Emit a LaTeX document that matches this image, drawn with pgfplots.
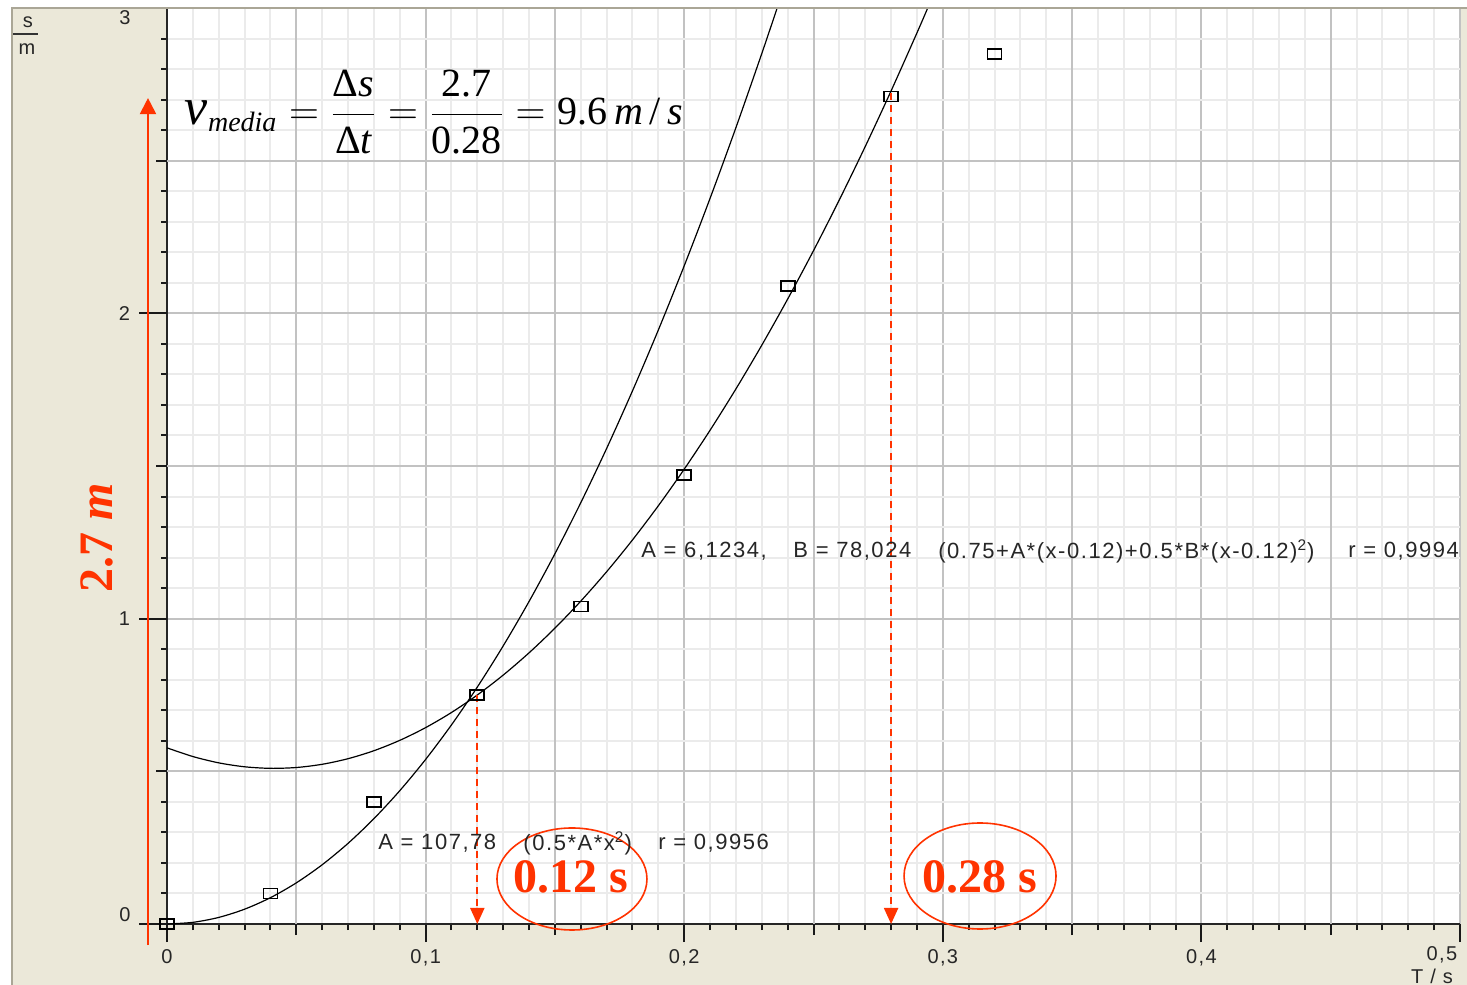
\documentclass[border=0pt]{standalone}
\usepackage{fontspec}
\usepackage{amsmath}
\usepackage{pgfplots}
\pgfplotsset{compat=1.18}
\usetikzlibrary{arrows.meta}
\setmainfont{Liberation Sans}
\newfontfamily\serif{Liberation Serif}
\newfontfamily\gui[LetterSpace=7]{Liberation Sans}
\definecolor{beige}{RGB}{235,232,217}
\definecolor{myred}{RGB}{255,51,0}
\definecolor{bord}{RGB}{170,166,150}
\newcommand{\ti}[1]{\text{\serif\itshape #1}}
\newcommand{\tr}[1]{\text{\serif #1}}

\pgfplotstableread{
x y
0 0
0.04 0.10
0.08 0.40
0.12 0.75
0.16 1.04
0.20 1.47
0.24 2.09
0.28 2.71
0.32 2.85
}\measured

\begin{document}
\begin{tikzpicture}
\fill[white] (0,0) rectangle (733.5pt,492.5pt);
\fill[beige] (6pt,0) rectangle (733.5pt,488.5pt);
\begin{axis}[
  at={(83.5pt,30.5pt)}, anchor=south west,
  scale only axis, width=646.5pt, height=458pt,
  xmin=0, xmax=0.5, ymin=0, ymax=3,
  clip=false,
  axis background/.style={fill=white},
  axis x line*=bottom, axis y line*=left,
  x axis line style={-, line width=1.4pt, black!85},
  y axis line style={-, line width=1.2pt, black!85},
  tick align=outside,
  xtick={0,0.1,0.2,0.3,0.4,0.5},
  xticklabels={0,{0,1},{0,2},{0,3},{0,4},{}},
  ytick={0,1,2,3},
  yticklabels={{},1,2,{}},
  minor x tick num=9,
  minor y tick num=9,
  extra x ticks={0.05,0.15,0.25,0.35,0.45},
  extra x tick labels={},
  extra y ticks={0.5,1.5,2.5},
  extra y tick labels={},
  extra tick style={grid=major, major tick length=5.5pt},
  major tick length=9pt,
  minor tick length=3pt,
  tick style={black!90, line width=1pt},
  grid=both,
  minor grid style={color=black!8, line width=1pt},
  major grid style={color=black!24, line width=1pt},
  ticklabel style={font=\gui\fontsize{10}{11}\selectfont, text=black!85},
  yticklabel style={xshift=-6pt},
]
% fitted curve 0.5*A*x^2, A=107.78
\addplot[black, line width=0.6pt, smooth] coordinates {
(0,0) (0.01,0.005389) (0.02,0.021556) (0.03,0.048501) (0.04,0.086224)
(0.05,0.134725) (0.06,0.194004) (0.07,0.264061) (0.08,0.344896) (0.09,0.436509)
(0.10,0.5389) (0.11,0.652069) (0.12,0.776016) (0.13,0.910741) (0.14,1.056244)
(0.15,1.212525) (0.16,1.379584) (0.17,1.557421) (0.18,1.746036) (0.19,1.945429)
(0.20,2.1556) (0.21,2.376549) (0.22,2.608276) (0.23,2.850781) (0.235943,3.0)
};
% fitted curve 0.75+A(x-0.12)+0.5B(x-0.12)^2
\addplot[black, line width=0.6pt, smooth] coordinates {
(0,0.576965) (0.01,0.548471) (0.02,0.52778) (0.03,0.514891) (0.04,0.509805)
(0.05,0.512521) (0.06,0.523039) (0.07,0.54136) (0.08,0.567483) (0.09,0.601409)
(0.10,0.643137) (0.11,0.692667) (0.12,0.75) (0.13,0.815135) (0.14,0.888073)
(0.15,0.968813) (0.16,1.057355) (0.17,1.1537) (0.18,1.257847) (0.19,1.369797)
(0.20,1.489549) (0.21,1.617103) (0.22,1.75246) (0.23,1.895619) (0.24,2.046581)
(0.25,2.205345) (0.26,2.371911) (0.27,2.54628) (0.28,2.728451) (0.29,2.918425)
(0.29417,3.0)
};
\addplot[only marks, mark=square, mark size=2.5pt,
  mark options={xscale=1.4, black, line width=0.9pt, fill=none}] table[x=x,y=y] {\measured};

% long major y ticks
\draw[black!90, line width=1pt] (axis cs:0,0) -- ++(-14pt,0);
\draw[black!90, line width=1pt] (axis cs:0,1) -- ++(-14pt,0);
\draw[black!90, line width=1pt] (axis cs:0,2) -- ++(-14pt,0);
\draw[black!90, line width=1pt] (axis cs:0,3) -- ++(-14pt,0);

% annotations
\draw[myred, line width=1pt, dash pattern=on 3.5pt off 2.5pt, -{Triangle[width=7pt,length=8pt]}]
  (axis cs:0.12,0.75) -- (axis cs:0.12,0);
\draw[myred, line width=1pt, dash pattern=on 3.5pt off 2.5pt, -{Triangle[width=7pt,length=8pt]}]
  (axis cs:0.28,2.72) -- (axis cs:0.28,0);
\draw[myred, line width=1pt, -{Triangle[width=8pt,length=8pt]}]
  (axis cs:-0.00735,-0.069) -- (axis cs:-0.00735,2.705);
\draw[myred, line width=0.8pt] (axis cs:0.1566,0.1474) ellipse [x radius=37.5pt, y radius=25.5pt];
\draw[myred, line width=0.8pt] (axis cs:0.3144,0.1572) ellipse [x radius=38pt, y radius=26.5pt];
\node[myred, font=\serif\bfseries\fontsize{24}{26}\selectfont] at (axis cs:0.1562,0.154) {0.12 s};
\node[myred, font=\serif\bfseries\fontsize{24}{26}\selectfont] at (axis cs:0.3144,0.154) {0.28 s};
\node[myred, rotate=90, font=\serif\bfseries\fontsize{24}{28}\selectfont] at (axis cs:-0.0271,1.264) {2.7 \textit{m}};

\node[anchor=west, inner sep=0pt, font=\fontsize{20}{24}\selectfont] at (axis cs:0.0068,2.659)
  {$\displaystyle \text{\fontsize{26}{28}\selectfont\serif\itshape v}_{\ti{media}} = \frac{\tr{Δ}\ti{s}}{\tr{Δ}\ti{t}} = \frac{\tr{2.7}}{\tr{0.28}} = \tr{9.6}\,\ti{m}\,\tr{/}\,\ti{s}$};

\begin{scope}[every node/.style={anchor=west, inner sep=0pt, font=\gui\fontsize{11}{12}\selectfont, text=black!85}]
\node at (axis cs:0.1833,1.2216) {A = 6,1234,};
\node at (axis cs:0.2421,1.2216) {B = 78,024};
\node at (axis cs:0.2981,1.2216) {(0.75+A*(x-0.12)+0.5*B*(x-0.12)\textsuperscript{2})};
\node at (axis cs:0.4567,1.2216) {r = 0,9994};
\node at (axis cs:0.0816,0.2653) {A = 107,78};
\node at (axis cs:0.1377,0.2653) {(0.5*A*x\textsuperscript{2})};
\node at (axis cs:0.1899,0.2653) {r = 0,9956};
\end{scope}
\end{axis}
\draw[bord, line width=1pt] (6pt,0) -- (6pt,488.5pt) -- (733.5pt,488.5pt);
\begin{scope}[every node/.style={font=\gui\fontsize{10}{11}\selectfont, text=black!85}]
\node at (721pt,15pt) {0,5};
\node at (716pt,4.5pt) {T / s};
\node at (62.5pt,483.5pt) {3};
\node at (62.5pt,35pt) {0};
\node at (14pt,481.25pt) {s};
\node at (13.5pt,468pt) {m};
\end{scope}
\draw[black!80, line width=0.8pt] (6.5pt,475.5pt) -- (19pt,475.5pt);
\pgfresetboundingbox
\useasboundingbox (0,0) rectangle (733.5pt,492.5pt);
\end{tikzpicture}
\end{document}
